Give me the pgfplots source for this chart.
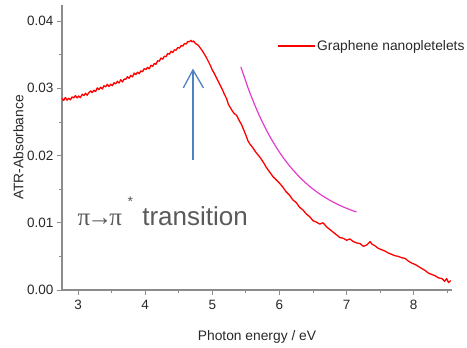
\documentclass[border=0pt]{standalone}
\usepackage{fontspec}
\setmainfont{Liberation Sans}
\newfontfamily\seriffont{Liberation Serif}
\usepackage{pgfplots}
\pgfplotsset{compat=1.18}
\definecolor{axgray}{RGB}{140,140,140}
\definecolor{labgray}{RGB}{40,40,40}
\definecolor{txtgray}{RGB}{90,90,90}
\definecolor{arrowblue}{RGB}{79,129,189}
\definecolor{magentaline}{RGB}{228,60,205}
\begin{document}
\begin{tikzpicture}
\begin{axis}[
  scale only axis, width=390pt, height=285pt,
  xmin=2.76, xmax=8.57, ymin=0, ymax=0.0424,
  axis lines*=left,
  axis line style={axgray, line width=1.1pt},
  every tick/.style={axgray, line width=0.9pt},
  tick align=outside,
  major tick length=5pt, minor tick length=3pt,
  xtick={3,4,5,6,7,8}, minor xtick={3.5,4.5,5.5,6.5,7.5,8.5},
  ytick={0,0.01,0.02,0.03,0.04}, minor ytick={0.005,0.015,0.025,0.035},
  scaled y ticks=false,
  yticklabel style={/pgf/number format/fixed, /pgf/number format/fixed zerofill, /pgf/number format/precision=2},
  /pgf/number format/assume math mode=true,
  tick label style={font=\fontsize{13.5}{16}\selectfont, labgray},
  xticklabel style={yshift=-2pt},
  xlabel={Photon energy / eV},
  ylabel={ATR-Absorbance},
  label style={font=\fontsize{13.8}{16}\selectfont, labgray},
  xlabel style={at={(axis description cs:0.5,0)}, anchor=base, yshift=-50pt},
  ylabel style={at={([xshift=-38.5pt]axis description cs:0,0.5)}, anchor=base},
  legend style={at={(rel axis cs:0.551,0.856)}, anchor=west, draw=none, fill=none,
    inner sep=0pt, outer sep=0pt, font=\fontsize{13.8}{16}\selectfont, text=labgray},
  legend image code/.code={\draw[#1] (0pt,0pt) -- (37pt,0pt);},
  clip=false,
]
\addplot[red, line width=1.3pt, line join=round] coordinates {
(2.760,0.02850)(2.785,0.02820)(2.810,0.02864)(2.835,0.02824)(2.860,0.02853)(2.885,0.02828)
(2.910,0.02873)(2.935,0.02857)(2.960,0.02892)(2.985,0.02857)(3.010,0.02886)(3.035,0.02862)
(3.060,0.02912)(3.085,0.02892)(3.110,0.02927)(3.135,0.02897)(3.160,0.02937)(3.185,0.02962)
(3.210,0.02937)(3.235,0.02972)(3.260,0.02952)(3.285,0.03007)(3.310,0.02982)(3.335,0.03017)
(3.360,0.02990)(3.385,0.03038)(3.410,0.03022)(3.435,0.03060)(3.460,0.03028)(3.485,0.03062)
(3.510,0.03040)(3.535,0.03083)(3.560,0.03067)(3.585,0.03105)(3.610,0.03078)(3.635,0.03128)
(3.660,0.03095)(3.685,0.03138)(3.710,0.03135)(3.735,0.03173)(3.760,0.03150)(3.785,0.03193)
(3.810,0.03170)(3.835,0.03227)(3.860,0.03204)(3.885,0.03241)(3.910,0.03218)(3.935,0.03260)
(3.960,0.03247)(3.985,0.03294)(4.010,0.03281)(4.035,0.03313)(4.060,0.03290)(4.085,0.03344)
(4.110,0.03327)(4.135,0.03370)(4.160,0.03358)(4.185,0.03411)(4.210,0.03404)(4.235,0.03452)
(4.260,0.03435)(4.285,0.03478)(4.310,0.03471)(4.335,0.03518)(4.360,0.03508)(4.385,0.03553)
(4.410,0.03533)(4.435,0.03573)(4.460,0.03568)(4.485,0.03608)(4.510,0.03598)(4.535,0.03638)
(4.560,0.03628)(4.585,0.03668)(4.610,0.03658)(4.635,0.03698)(4.660,0.03693)(4.680,0.03715)
(4.700,0.03690)(4.720,0.03705)(4.745,0.03670)(4.76,0.03660)(4.79,0.03640)(4.82,0.03600)
(4.85,0.03560)(4.88,0.03510)(4.91,0.03460)(4.94,0.03400)(4.97,0.03340)(5.00,0.03270)
(5.03,0.03220)(5.06,0.03160)(5.09,0.03100)(5.12,0.03040)(5.15,0.02980)(5.18,0.02910)
(5.21,0.02850)(5.24,0.02760)(5.27,0.02710)(5.30,0.02660)(5.33,0.02620)(5.36,0.02600)
(5.40,0.02520)(5.43,0.02470)(5.46,0.02400)(5.50,0.02300)(5.53,0.02220)(5.56,0.02170)
(5.60,0.02120)(5.64,0.02060)(5.68,0.02010)(5.72,0.01960)(5.76,0.01900)(5.80,0.01830)
(5.85,0.01760)(5.90,0.01690)(5.95,0.01640)(6.00,0.01590)(6.05,0.01530)(6.10,0.01460)
(6.15,0.01410)(6.20,0.01340)(6.25,0.01300)(6.30,0.01230)(6.35,0.01190)(6.40,0.01130)
(6.45,0.01090)(6.50,0.01030)(6.55,0.01010)(6.60,0.00980)(6.65,0.01000)(6.70,0.00940)
(6.75,0.00900)(6.80,0.00860)(6.85,0.00820)(6.90,0.00780)(6.95,0.00770)(7.00,0.00740)
(7.05,0.00760)(7.10,0.00720)(7.15,0.00700)(7.20,0.00690)(7.25,0.00650)(7.30,0.00670)
(7.35,0.00720)(7.38,0.00680)(7.42,0.00660)(7.47,0.00620)(7.52,0.00600)(7.57,0.00580)
(7.62,0.00550)(7.67,0.00530)(7.72,0.00510)(7.77,0.00500)(7.82,0.00480)(7.87,0.00470)
(7.92,0.00430)(7.97,0.00400)(8.02,0.00380)(8.07,0.00350)(8.12,0.00320)(8.17,0.00290)
(8.22,0.00250)(8.27,0.00230)(8.32,0.00210)(8.37,0.00180)(8.42,0.00170)(8.46,0.00130)
(8.49,0.00170)(8.52,0.00110)(8.55,0.00140)
};
\addlegendentry{Graphene nanopletelets}
\addplot[magentaline, line width=1.2pt, smooth, forget plot] coordinates {
(5.425,0.03320)(5.55,0.02957)(5.70,0.02594)(5.85,0.02295)(6.00,0.02049)(6.15,0.01846)
(6.30,0.01679)(6.45,0.01541)(6.60,0.01428)(6.75,0.01335)(6.90,0.01258)(7.05,0.01195)
(7.147,0.01160)
};
\draw[arrowblue, line width=1.3pt] (axis cs:4.711,0.01935) -- (axis cs:4.711,0.03274);
\draw[arrowblue, line width=1.3pt, line join=miter] (axis cs:4.567,0.03006) -- (axis cs:4.711,0.03274) -- (axis cs:4.867,0.03006);
\node[anchor=base west, inner sep=0pt, text=txtgray, font=\fontsize{25}{28}\selectfont\seriffont] at (axis cs:2.99,0.00957) {π\kern-3pt→\kern-3ptπ};
\node[inner sep=0pt, text=txtgray, font=\fontsize{14}{16}\selectfont] at (axis cs:3.778,0.01314) {*};
\node[anchor=base west, inner sep=0pt, text=txtgray, font=\fontsize{26}{30}\selectfont] at (axis cs:3.954,0.00957) {transition};
\end{axis}
\pgfresetboundingbox
\path[use as bounding box] ([xshift=-62pt,yshift=-57pt]current axis.south west) rectangle ([xshift=15pt,yshift=5pt]current axis.north east);
\end{tikzpicture}
\end{document}
